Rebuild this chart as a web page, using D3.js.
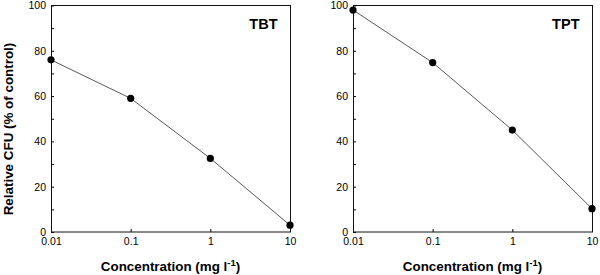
<!DOCTYPE html>
<html>
<head>
<meta charset="utf-8">
<script src="https://cdn.jsdelivr.net/npm/d3@7"></script>
<style>
    body { margin: 0; background: #fff; }
    svg { display: block; font-family: "Liberation Sans", Arial, Helvetica, sans-serif; }
</style>
</head>
<body>
<svg id="chart" width="600" height="275"></svg>
<script>
"use strict";

// data
const concentrations = [0.01, 0.1, 1, 10];
const tbtValues = [76, 59, 32.5, 3];
const tptValues = [98, 74.8, 45, 10.3];
const panelNames = ["TBT", "TPT"];
const xTickValues = [0.01, 0.1, 1, 10];
const xTickLabels = ["0.01", "0.1", "1", "10"];
const yTickValues = [0, 20, 40, 60, 80, 100];
const yMinorTicks = [10, 30, 50, 70, 90];

const svg = d3.select("#chart");
svg.selectAll("*").remove();

const plotTop = 5.5;
const plotBottom = 232;
const panelLefts = [51, 353];
const panelWidth = 239;

const seriesList = [tbtValues, tptValues];

panelLefts.forEach((left, p) => {
    const chart = svg.append("g").attr("transform", `translate(${left}, 0)`);

    const xScale = d3.scaleLog().domain([0.01, 10]).range([0, panelWidth]);
    const yScale = d3.scaleLinear().domain([0, 100]).range([plotBottom, plotTop]);

    // minor y ticks
    chart.append("g")
        .call(d3.axisLeft(yScale).tickValues(yMinorTicks).tickSizeInner(-3).tickSizeOuter(0).tickFormat(""))
        .call(g => g.select(".domain").remove());

    // major y ticks
    chart.append("g")
        .call(d3.axisLeft(yScale).tickValues(yTickValues).tickSizeInner(-3).tickSizeOuter(0).tickPadding(5))
        .call(g => g.select(".domain").remove())
        .style("font-size", "10.5px")
        .style("font-family", null);

    chart.append("g")
        .attr("transform", `translate(0, ${plotBottom})`)
        .call(d3.axisBottom(xScale).tickValues(xTickValues).tickSizeInner(-3).tickSizeOuter(0).tickPadding(6)
            .tickFormat((d, i) => xTickLabels[i]))
        .call(g => g.select(".domain").remove())
        .style("font-size", "10.5px")
        .style("font-family", null);

    // frame
    chart.append("rect")
        .attr("x", 0.5)
        .attr("y", plotTop)
        .attr("width", panelWidth)
        .attr("height", plotBottom - plotTop)
        .attr("fill", "none")
        .attr("stroke", "#111")
        .attr("stroke-width", 1);

    const data = concentrations.map((c, i) => ({ c: c, v: seriesList[p][i] }));

    chart.append("path")
        .datum(data)
        .attr("fill", "none")
        .attr("stroke", "#444")
        .attr("stroke-width", 0.9)
        .attr("d", d3.line().x(d => xScale(d.c)).y(d => yScale(d.v)));

    chart.selectAll("circle.pt")
        .data(data)
        .enter()
        .append("circle")
        .attr("class", "pt")
        .attr("cx", d => xScale(d.c))
        .attr("cy", d => yScale(d.v))
        .attr("r", 3.6)
        .attr("fill", "#000");

    chart.append("text")
        .attr("x", panelWidth - 12.5)
        .attr("y", 29.3)
        .attr("text-anchor", "end")
        .style("font-size", "14.5px")
        .style("font-weight", "bold")
        .text(panelNames[p]);

    const xLabel = chart.append("text")
        .attr("x", panelWidth / 2)
        .attr("y", 271)
        .attr("text-anchor", "middle")
        .style("font-size", "13.4px")
        .style("font-weight", "bold");
    xLabel.append("tspan").text("Concentration (mg l");
    xLabel.append("tspan").attr("dy", -5).style("font-size", "9.5px").text("-1");
    xLabel.append("tspan").attr("dy", 5).text(")");
});

svg.append("text")
    .attr("transform", `translate(13, 129) rotate(-90)`)
    .attr("text-anchor", "middle")
    .style("font-size", "13.4px")
    .style("font-weight", "bold")
    .text("Relative CFU (% of control)");
</script>
</body>
</html>
